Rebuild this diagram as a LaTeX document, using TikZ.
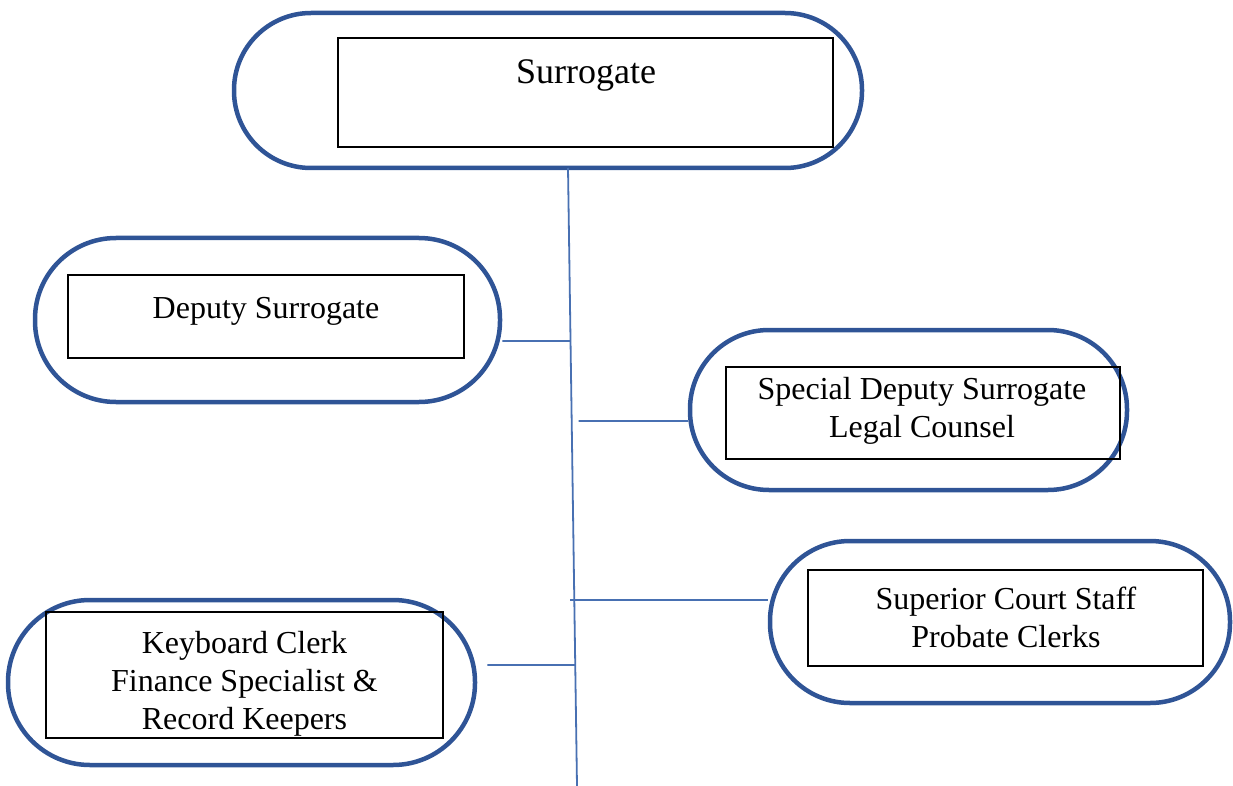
\documentclass[tikz,border=0pt]{standalone}
\usepackage{fontspec}
\setmainfont{Liberation Serif}
\usetikzlibrary{calc}
\definecolor{pillblue}{RGB}{47,84,150}
\definecolor{lineblue}{RGB}{72,112,178}
\begin{document}
\begin{tikzpicture}[x=1pt,y=-1pt,
  pill/.style={draw=pillblue,line width=4.5pt,rectangle,inner sep=0pt},
  box/.style={draw=black,line width=1.6pt,rectangle,inner sep=0pt},
  lbl/.style={inner sep=0pt,align=center,font=\fontsize{32}{38}\selectfont,anchor=base},
  conn/.style={draw=lineblue,line width=1.8pt}
]
\useasboundingbox (0,0) rectangle (1233,786);
% top
\node[pill,minimum width=628,minimum height=155,rounded corners=77] (topo) at (548,90.5) {};
\node[box,minimum width=495,minimum height=109] (topb) at (585.5,92.5) {};
\node[lbl,font=\fontsize{36}{40}\selectfont] (topt) at (586,84) {Surrogate};
% deputy
\node[pill,minimum width=465,minimum height=164,rounded corners=81] (depo) at (267.5,320) {};
\node[box,minimum width=396,minimum height=83] (depb) at (266,316.5) {};
\node[lbl] (dept) at (266,318) {Deputy Surrogate};
% special
\node[pill,minimum width=437,minimum height=160,rounded corners=79] (speo) at (908.5,410) {};
\node[box,minimum width=394,minimum height=92] (speb) at (923,413) {};
\node[lbl] (spet) at (922,437) {Special Deputy Surrogate\\Legal Counsel};
% superior
\node[pill,minimum width=460,minimum height=162,rounded corners=80] (supo) at (1000,622) {};
\node[box,minimum width=395,minimum height=96] (supb) at (1005.5,618) {};
\node[lbl] (supt) at (1006,647) {Superior Court Staff\\Probate Clerks};
% keyboard
\node[pill,minimum width=467,minimum height=165,rounded corners=82] (keyo) at (241.5,682.5) {};
\node[box,minimum width=397,minimum height=126] (keyb) at (244.5,675) {};
\node[lbl] (keyt) at (244.5,729) {Keyboard Clerk\\Finance Specialist \&\\Record Keepers};
% spine
\coordinate (vtop) at (568,168);
\coordinate (vbot) at (577,786);
\draw[conn] (vtop) -- (vbot);
% branch end points
\coordinate (depa) at ($(depo.east)+(0,21)$);
\coordinate (spea) at ($(speo.west)+(0,11)$);
\coordinate (supa) at ($(supo.west)+(0,-22)$);
\coordinate (keya) at ($(keyo.east)+(10,-17.5)$);
\coordinate (depj) at (intersection cs: first line={(vtop)--(vbot)}, second line={(depa)--($(depa)+(10,0)$)});
\coordinate (spej) at (intersection cs: first line={(vtop)--(vbot)}, second line={(spea)--($(spea)+(10,0)$)});
\coordinate (supj) at (intersection cs: first line={(vtop)--(vbot)}, second line={(supa)--($(supa)+(10,0)$)});
\coordinate (keyj) at (intersection cs: first line={(vtop)--(vbot)}, second line={(keya)--($(keya)+(10,0)$)});
% branches
\draw[conn] (depa) -- (depj);
\draw[conn] (spea) -- ($(spej)+(7,0)$);
\draw[conn] (supa) -- ($(supj)+(-4,0)$);
\draw[conn] (keya) -- (keyj);
\end{tikzpicture}
\end{document}
